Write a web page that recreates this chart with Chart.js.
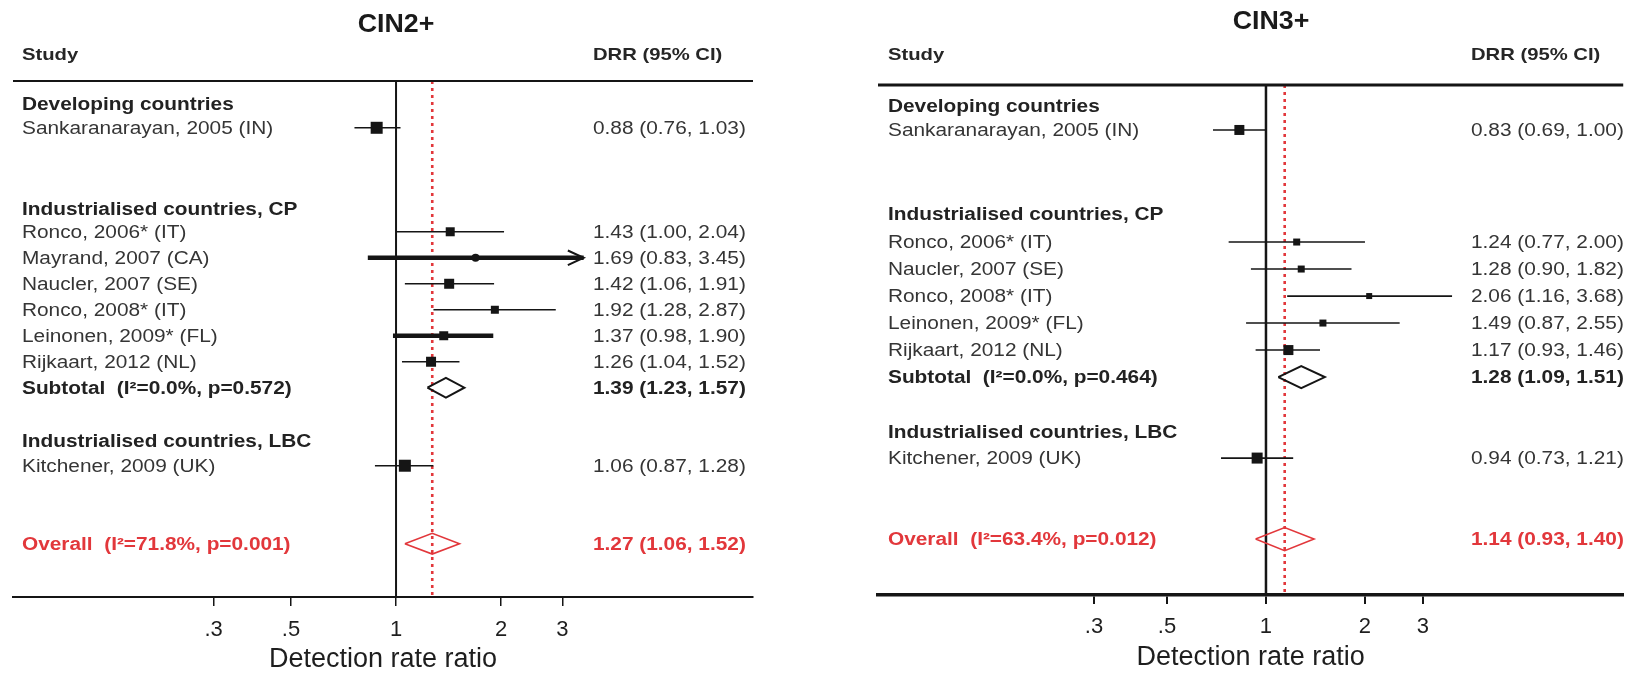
<!DOCTYPE html>
<html><head><meta charset="utf-8">
<script src="https://cdn.jsdelivr.net/npm/chart.js@4.4.1/dist/chart.umd.min.js"></script>
<style>
html,body{margin:0;padding:0;background:#fff;width:1631px;height:676px;overflow:hidden}
canvas{position:absolute;top:0}
#p1{left:0}
#p2{left:815px}
</style></head><body>
<canvas id="p1" width="790" height="676"></canvas>
<canvas id="p2" width="816" height="676"></canvas>
<script>
// ---------------- DATA ----------------
const groupNames = ['Developing countries', 'Industrialised countries, CP', 'Industrialised countries, LBC'];
const tickValues = [0.3, 0.5, 1, 2, 3];
const tickLabels = ['.3', '.5', '1', '2', '3'];
const axisTitle = 'Detection rate ratio';
const colStudy = 'Study';
const colDRR = 'DRR (95% CI)';

const cin2Title = 'CIN2+';
const cin2Studies = ['Sankaranarayan, 2005 (IN)', 'Ronco, 2006* (IT)', 'Mayrand, 2007 (CA)', 'Naucler, 2007 (SE)', 'Ronco, 2008* (IT)', 'Leinonen, 2009* (FL)', 'Rijkaart, 2012 (NL)', 'Kitchener, 2009 (UK)'];
const cin2Est = [0.88, 1.43, 1.69, 1.42, 1.92, 1.37, 1.26, 1.06];
const cin2Lo  = [0.76, 1.00, 0.83, 1.06, 1.28, 0.98, 1.04, 0.87];
const cin2Hi  = [1.03, 2.04, 3.45, 1.91, 2.87, 1.90, 1.52, 1.28];
const cin2Subtotal = [1.39, 1.23, 1.57];
const cin2SubtotalLabel = 'Subtotal  (I²=0.0%, p=0.572)';
const cin2Overall = [1.27, 1.06, 1.52];
const cin2OverallLabel = 'Overall  (I²=71.8%, p=0.001)';

const cin3Title = 'CIN3+';
const cin3Studies = ['Sankaranarayan, 2005 (IN)', 'Ronco, 2006* (IT)', 'Naucler, 2007 (SE)', 'Ronco, 2008* (IT)', 'Leinonen, 2009* (FL)', 'Rijkaart, 2012 (NL)', 'Kitchener, 2009 (UK)'];
const cin3Est = [0.83, 1.24, 1.28, 2.06, 1.49, 1.17, 0.94];
const cin3Lo  = [0.69, 0.77, 0.90, 1.16, 0.87, 0.93, 0.73];
const cin3Hi  = [1.00, 2.00, 1.82, 3.68, 2.55, 1.46, 1.21];
const cin3Subtotal = [1.28, 1.09, 1.51];
const cin3SubtotalLabel = 'Subtotal  (I²=0.0%, p=0.464)';
const cin3Overall = [1.14, 0.93, 1.40];
const cin3OverallLabel = 'Overall  (I²=63.4%, p=0.012)';

// ---------------- LAYOUT / STYLE ----------------
const FONT = '"Liberation Sans", Arial, Helvetica, sans-serif';
const RED = '#e2373b';
const INK = '#151515';

const panel1 = {
  canvas: 'p1', title: cin2Title, titleX: 396, titleY: 25,
  pad: {left: 13, right: 37, top: 81}, axisHeight: 79, tickPad: 11, titlePadBottom: 0,
  xMin: 0.0798, xMax: 10.55, yMin: -0.8, yMax: 19.05,
  groupSlots: [0.12, 4.16, 13.08], studySlots: [1, 5, 6, 7, 8, 9, 10, 14], subSlot: 11, overallSlot: 17,
  markerSizes: [12, 9, 8, 10, 8, 9, 10, 12],
  markerStyles: ['rect', 'rect', 'circle', 'rect', 'rect', 'rect', 'rect', 'rect'],
  ciWidths: [1.5, 1.5, 4.5, 1.5, 1.5, 4.5, 1.5, 1.5],
  arrows: [false, false, true, false, false, false, false, false],
  diamondHalf: 0.38, overallHalf: 0.4,
  studyX: 9, drrX: 580, headY: 55,
  headerWidth: 2, axisWidth: 2, tickWidth: 1.5, nullWidth: 2
};
const panel2 = {
  canvas: 'p2', title: cin3Title, titleX: 456, titleY: 22,
  pad: {left: 63, right: 0, top: 85}, axisHeight: 81, tickPad: 10, titlePadBottom: 2,
  xMin: 0.0661, xMax: 12.2, yMin: -0.815, yMax: 18.07,
  groupSlots: [0, 4.0, 12.07], studySlots: [0.85, 5, 6, 7, 8, 9, 13], subSlot: 10, overallSlot: 16,
  markerSizes: [10, 7, 7, 6, 7, 10, 11],
  markerStyles: ['rect', 'rect', 'rect', 'rect', 'rect', 'rect', 'rect'],
  ciWidths: [1.5, 1.5, 1.5, 1.8, 1.5, 1.5, 1.8],
  arrows: [false, false, false, false, false, false, false],
  diamondHalf: 0.41, overallHalf: 0.43,
  studyX: 10, drrX: 593, headY: 55,
  headerWidth: 3, axisWidth: 3.5, tickWidth: 2, nullWidth: 2.5
};

const data1 = {studies: cin2Studies, est: cin2Est, lo: cin2Lo, hi: cin2Hi, sub: cin2Subtotal, subLabel: cin2SubtotalLabel, overall: cin2Overall, overallLabel: cin2OverallLabel};
const data2 = {studies: cin3Studies, est: cin3Est, lo: cin3Lo, hi: cin3Hi, sub: cin3Subtotal, subLabel: cin3SubtotalLabel, overall: cin3Overall, overallLabel: cin3OverallLabel};

function fmt(v) { return v[0].toFixed(2) + ' (' + v[1].toFixed(2) + ', ' + v[2].toFixed(2) + ')'; }

function diamond(v, slot, half) {
  return [{x: v[1], y: slot}, {x: v[0], y: slot - half}, {x: v[2], y: slot}, {x: v[0], y: slot + half}, {x: v[1], y: slot}];
}

function lineDs(points, color, width, extra) {
  return Object.assign({data: points, borderColor: color, borderWidth: width, pointRadius: 0, pointHoverRadius: 0,
    fill: false, tension: 0, clip: false, showLine: true}, extra || {});
}

function textPlugin(P, D) {
  return {
    id: 'forestText',
    afterDraw(chart) {
      const ctx = chart.ctx, ca = chart.chartArea, ys = chart.scales.y;
      const SX = 1.19;
      ctx.save();
      ctx.strokeStyle = INK; ctx.lineWidth = P.headerWidth;
      ctx.beginPath(); ctx.moveTo(ca.left, ca.top); ctx.lineTo(ca.right, ca.top); ctx.stroke();
      ctx.restore();
      function txt(s, x, y, weight, size, color, sx, align) {
        ctx.save();
        ctx.font = weight + ' ' + size + 'px ' + FONT;
        ctx.fillStyle = color; ctx.textBaseline = 'middle'; ctx.textAlign = align || 'left';
        ctx.translate(x, y); ctx.scale(sx, 1); ctx.fillText(s, 0, 0);
        ctx.restore();
      }
      const sx = ca.left + P.studyX, dx = ca.left + P.drrX;
      txt(P.title, P.titleX, P.titleY, 'bold', 25, '#1a1a1a', 1.07, 'center');
      txt(colStudy, sx, P.headY, 'bold', 17, '#262626', SX);
      txt(colDRR, dx, P.headY, 'bold', 17, '#262626', SX);
      groupNames.forEach((g, i) => txt(g, sx, ys.getPixelForValue(P.groupSlots[i]), 'bold', 17.5, '#222', SX));
      D.studies.forEach((s, i) => {
        const y = ys.getPixelForValue(P.studySlots[i]) + 1.5;
        txt(s, sx, y, 'normal', 17.5, '#353535', SX);
        txt(fmt([D.est[i], D.lo[i], D.hi[i]]), dx, y, 'normal', 17.5, '#353535', SX);
      });
      let y = ys.getPixelForValue(P.subSlot) + 1;
      txt(D.subLabel, sx, y, 'bold', 17.5, '#222', SX);
      txt(fmt(D.sub), dx, y, 'bold', 17.5, '#222', SX);
      y = ys.getPixelForValue(P.overallSlot) + 1;
      txt(D.overallLabel, sx, y, 'bold', 17.5, RED, SX);
      txt(fmt(D.overall), dx, y, 'bold', 17.5, RED, SX);
    }
  };
}

function buildPanel(P, D) {
  const ds = [];
  ds.push(lineDs([{x: 1, y: P.yMin}, {x: 1, y: P.yMax}], INK, P.nullWidth, {order: 30}));
  ds.push(lineDs([{x: D.overall[0], y: P.yMin}, {x: D.overall[0], y: P.yMax}], RED, 2.6, {borderDash: [3, 4], order: 29}));
  D.est.forEach((e, i) => {
    const s = P.studySlots[i];
    ds.push(lineDs([{x: D.lo[i], y: s}, {x: D.hi[i], y: s}], INK, P.ciWidths[i], {order: 10}));
    if (P.arrows[i]) {
      ds.push(lineDs([{x: D.hi[i] / 1.11, y: s - 0.28}, {x: D.hi[i], y: s}, {x: D.hi[i] / 1.11, y: s + 0.28}], INK, 2, {order: 10}));
    }
  });
  ds.push({
    data: D.est.map((e, i) => ({x: e, y: P.studySlots[i]})),
    showLine: false, clip: false,
    pointStyle: P.markerStyles,
    pointRadius: P.markerSizes.map((s, i) => P.markerStyles[i] === 'rect' ? s / Math.SQRT2 : s / 2),
    pointHoverRadius: 0,
    pointBackgroundColor: INK, pointBorderColor: INK, pointBorderWidth: 0, order: 1
  });
  ds.push(lineDs(diamond(D.sub, P.subSlot, P.diamondHalf), INK, 2, {order: 2}));
  ds.push(lineDs(diamond(D.overall, P.overallSlot, P.overallHalf), RED, 1.6, {order: 2}));

  new Chart(document.getElementById(P.canvas), {
    type: 'line',
    data: {datasets: ds},
    options: {
      responsive: false, animation: false, devicePixelRatio: 1, events: [],
      layout: {padding: {left: P.pad.left, right: P.pad.right, top: P.pad.top, bottom: 0}},
      plugins: {legend: {display: false}, tooltip: {enabled: false}, title: {display: false}},
      scales: {
        x: {
          type: 'logarithmic', position: 'bottom', min: P.xMin, max: P.xMax,
          afterBuildTicks: sc => { sc.ticks = tickValues.map(v => ({value: v})); },
          afterFit: sc => { sc.height = P.axisHeight; },
          ticks: {callback: (v, i) => tickLabels[i], color: '#1e1e1e', font: {family: FONT, size: 22},
            padding: P.tickPad, maxRotation: 0, autoSkip: false},
          grid: {display: true, drawOnChartArea: false, drawTicks: true, tickLength: 9, color: INK, lineWidth: P.tickWidth},
          border: {display: true, color: INK, width: P.axisWidth},
          title: {display: true, text: axisTitle, color: '#1e1e1e', font: {family: FONT, size: 27},
            padding: {top: 0, bottom: P.titlePadBottom}}
        },
        y: {type: 'linear', reverse: true, min: P.yMin, max: P.yMax, display: false}
      }
    },
    plugins: [textPlugin(P, D)]
  });
}

buildPanel(panel1, data1);
buildPanel(panel2, data2);
</script>
</body></html>
